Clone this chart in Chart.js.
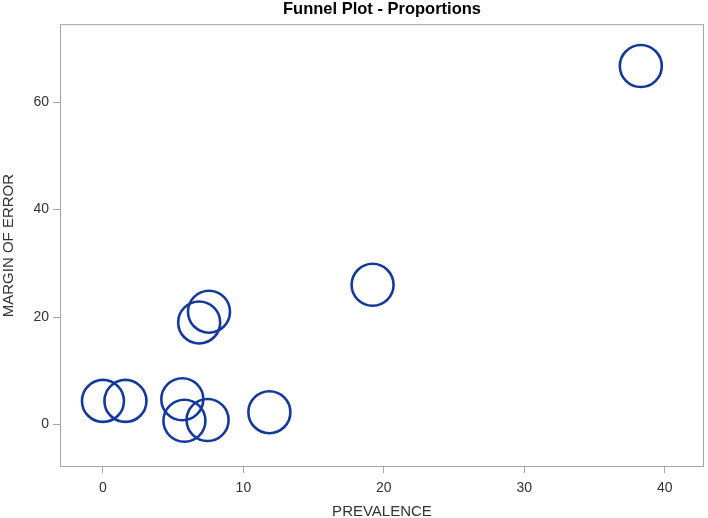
<!DOCTYPE html>
<html>
<head>
<meta charset="utf-8">
<script src="https://cdn.jsdelivr.net/npm/chart.js@4/dist/chart.umd.min.js"></script>
<style>
  html, body { margin: 0; padding: 0; background: #ffffff; }
  #wrap { width: 708px; height: 518px; }
</style>
</head>
<body>
<div id="wrap"><canvas id="funnel" width="708" height="518"></canvas></div>
<script>
// values
const prevalence    = [0.0, 1.6, 5.65, 5.8, 7.45, 11.85, 7.55, 6.85, 19.2, 38.3];
const marginOfError = [4.4, 4.4, 4.7, 0.7, 0.85, 2.3, 21.0, 19.0, 26.0, 66.7];
const xTicks = [0, 10, 20, 30, 40];
const yTicks = [0, 20, 40, 60];

const axisGray = '#a6a6a6';
const labelColor = '#333333';
const markColor = '#14399c';

// frame around the plot area (SAS style box)
const frame = {
    id: 'frame',
    afterDraw: (chart) => {
        const a = chart.chartArea;
        const ctx = chart.ctx;
        ctx.save();
        ctx.strokeStyle = axisGray;
        ctx.lineWidth = 1;
        ctx.strokeRect(a.left + 0.5, a.top + 0.5, a.right - a.left - 1, a.bottom - a.top - 1);
        ctx.restore();
    }
};

const ctx = document.getElementById('funnel').getContext('2d');
new Chart(ctx, {
    type: 'scatter',
    data: {
        datasets: [{
            data: prevalence.map((p, i) => ({ x: p, y: marginOfError[i] })),
            pointStyle: 'circle',
            pointRadius: 21,
            pointHoverRadius: 21,
            pointBorderWidth: 2.6,
            borderColor: markColor,
            backgroundColor: 'rgba(0,0,0,0)'
        }]
    },
    options: {
        responsive: false,
        animation: false,
        clip: false,
        layout: { autoPadding: false, padding: { top: 0, right: 4, left: 0, bottom: 0 } },
        plugins: {
            legend: { display: false },
            tooltip: { enabled: false },
            title: {
                display: true,
                fullSize: false,
                text: 'Funnel Plot - Proportions',
                color: '#000000',
                font: { size: 16.5, weight: 'bold', family: "'Liberation Sans', Arial, sans-serif", lineHeight: 1.1 },
                padding: { top: 0, bottom: 6 }
            }
        },
        scales: {
            x: {
                type: 'linear',
                min: -3.06,
                max: 42.8,
                afterBuildTicks: (s) => { s.ticks = xTicks.map(v => ({ value: v })); },
                afterFit: (s) => { s.height = 51; s.paddingLeft = 0; s.paddingRight = 0; },
                border: { display: false },
                grid: { drawOnChartArea: false, drawTicks: true, tickLength: 6, color: axisGray },
                ticks: {
                    color: labelColor,
                    padding: 7,
                    font: { size: 14, family: "'Liberation Sans', Arial, sans-serif" }
                },
                title: {
                    display: true,
                    text: 'PREVALENCE',
                    color: labelColor,
                    padding: { top: 0, bottom: -3 },
                    font: { size: 15, family: "'Liberation Sans', Arial, sans-serif" }
                }
            },
            y: {
                type: 'linear',
                min: -7.9,
                max: 74.5,
                afterBuildTicks: (s) => { s.ticks = yTicks.map(v => ({ value: v })); },
                afterFit: (s) => { s.width = 60; s.paddingTop = 0; s.paddingBottom = 0; },
                border: { display: false },
                grid: { drawOnChartArea: false, drawTicks: true, tickLength: 7, color: axisGray },
                ticks: {
                    color: labelColor,
                    padding: 4,
                    font: { size: 14, family: "'Liberation Sans', Arial, sans-serif" }
                },
                title: {
                    display: true,
                    text: 'MARGIN OF ERROR',
                    color: labelColor,
                    padding: 0,
                    font: { size: 15, family: "'Liberation Sans', Arial, sans-serif" }
                }
            }
        }
    },
    plugins: [frame]
});
</script>
</body>
</html>
